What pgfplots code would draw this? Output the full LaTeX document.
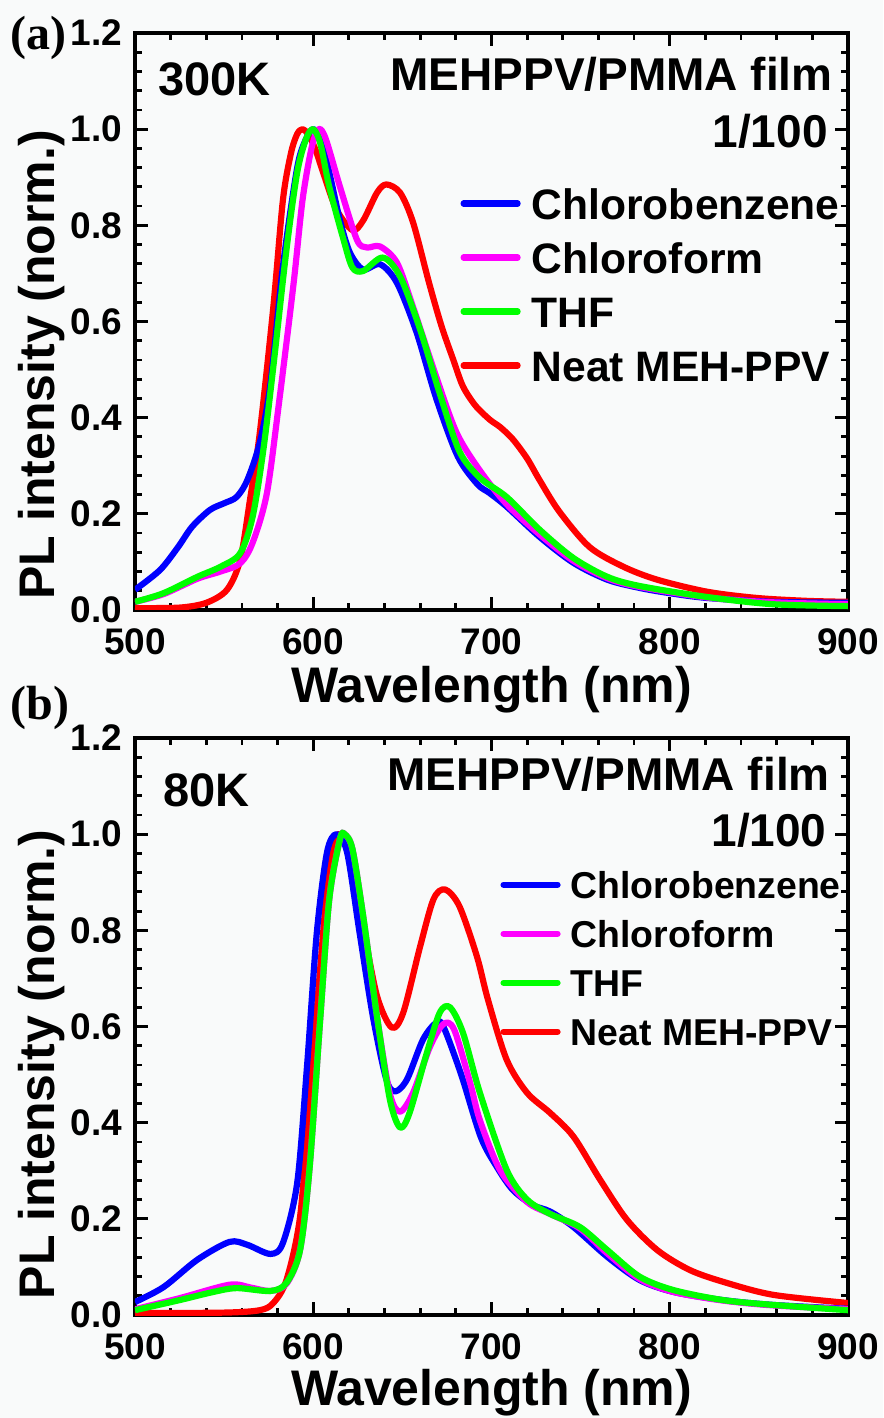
\documentclass[border=0pt]{standalone}
\usepackage{fontspec}
\setmainfont{Liberation Sans}
\newfontfamily\serifb{Liberation Serif}
\usepackage{pgfplots}
\pgfplotsset{compat=1.18}

\definecolor{bg}{RGB}{249,250,250}
\definecolor{cb}{RGB}{0,0,255}
\definecolor{cf}{RGB}{255,0,255}
\definecolor{thf}{RGB}{0,255,0}
\definecolor{neat}{RGB}{255,0,0}

\pgfplotsset{
  plpanel/.style={
    scale only axis, width=356.5pt, height=288.5pt,
    xmin=500, xmax=900, ymin=0, ymax=1.2,
    xtick={500,600,...,900}, ytick={0,0.2,...,1.2},
    minor x tick num=4, minor y tick num=4,
    tick align=inside,
    major tick length=6.5pt, minor tick length=3.5pt,
    every tick/.style={black, line width=1.4pt},
    axis line style={line width=1.8pt},
    /pgf/number format/assume math mode=true,
    ticklabel style={font=\fontsize{18.5}{18.5}\selectfont\bfseries, inner sep=1pt},
    yticklabel style={xshift=-5.2pt, /pgf/number format/.cd, fixed, fixed zerofill, precision=1},
    xticklabel style={yshift=-8pt, /pgf/number format/.cd, fixed, precision=0, 1000 sep={}},
    label style={font=\fontsize{25}{25}\selectfont\bfseries},
    xlabel={Wavelength (nm)},
    ylabel={PL intensity (norm.)},
    legend cell align=left,
    legend image code/.code={\draw[#1, line cap=round] (0pt,0pt) -- (27pt,0pt);},
    every axis plot/.append style={line width=3.1pt, smooth, line join=round},
  },
}

\begin{document}
\begin{tikzpicture}
\useasboundingbox (-67.5pt,-404pt) rectangle (374pt,305pt);
\fill[bg] (-67.5pt,-404pt) rectangle (374pt,305pt);

% (a) 300 K
\begin{axis}[plpanel, name=top, at={(0,0)}, anchor=south west,
  xlabel style={at={(axis description cs:0.5,0)}, anchor=base, yshift=-46pt},
  ylabel style={at={(axis description cs:0,0.425)}, anchor=base, yshift=40pt},
  legend style={draw=none, fill=none, inner sep=0pt, row sep=11.5pt, column sep=5.5pt,
    font=\fontsize{21.3}{21.3}\selectfont\bfseries,
    nodes={inner sep=0pt, text height=15.5pt, text depth=0pt},
    at={(rel axis cs:0.456,0.732)}, anchor=north west},
]
\addplot[neat, forget plot] coordinates {
(500,0.004)(525,0.005)(540,0.015)(551.6,0.042)(559,0.104)(564.5,0.229)(570,0.368)
(577.6,0.63)(583,0.853)(587.5,0.95)(591,0.99)(594,1.0)(597,0.99)(601,0.96)(606,0.905)
(613,0.833)(622,0.79)(628,0.81)(635.8,0.868)(641,0.885)(648.7,0.868)(656,0.806)
(665,0.68)(672,0.59)(678.6,0.52)(684,0.465)(691,0.425)(699,0.396)(705,0.38)
(712,0.355)(720,0.315)(727,0.27)(738,0.205)(755,0.131)(774,0.09)(793,0.063)
(821,0.038)(849,0.025)(877,0.019)(900,0.017)};
\addplot[cb] coordinates {
(500,0.042)(514,0.083)(524,0.13)(532,0.173)(542,0.208)(550,0.222)(557,0.235)
(563,0.27)(570,0.348)(576,0.47)(583,0.715)(591,0.92)(596,0.98)(600,1.0)(604,0.98)
(609,0.91)(615,0.81)(620.6,0.743)(628,0.708)(637.5,0.719)(647,0.68)(658,0.577)
(669,0.44)(681,0.32)(692,0.262)(699,0.243)(708.5,0.215)(727,0.152)(746,0.098)
(765,0.063)(783,0.046)(800,0.035)(821,0.025)(858,0.017)(900,0.015)};
\addplot[cf] coordinates {
(500,0.017)(516,0.033)(535,0.065)(548,0.08)(559,0.097)(566,0.14)(574,0.243)
(581,0.437)(589,0.68)(594,0.853)(599,0.96)(603,1.0)(607,0.98)(615,0.88)
(624.5,0.77)(630,0.754)(637.5,0.756)(647,0.722)(656,0.63)(669,0.485)(680.5,0.368)
(693.5,0.29)(708.5,0.22)(727,0.157)(746,0.102)(765,0.066)(783,0.048)(821,0.026)
(858,0.016)(900,0.012)};
\addplot[thf] coordinates {
(500,0.017)(516,0.035)(535,0.069)(548,0.09)(559,0.118)(566,0.194)(572,0.333)
(577.6,0.506)(585,0.75)(591,0.91)(596,0.98)(600,1.0)(604,0.97)(609,0.88)(617,0.77)
(622,0.712)(628,0.705)(639,0.733)(648.7,0.694)(660,0.583)(671,0.45)(682,0.33)
(693.5,0.275)(708.5,0.235)(727,0.167)(746,0.108)(765,0.069)(783,0.05)(821,0.027)
(858,0.012)(900,0.008)};
\addlegendimage{neat, line width=3.1pt}
\legend{Chlorobenzene, Chloroform, THF, Neat MEH-PPV}
\node[anchor=base west, inner sep=0pt, font=\fontsize{23.5}{23.5}\selectfont\bfseries]
  at (rel axis cs:0.032,0.8925) {300K};
\node[anchor=base east, inner sep=0pt, font=\fontsize{23}{23}\selectfont\bfseries]
  at (rel axis cs:0.979,0.901) {MEHPPV/PMMA film};
\node[anchor=base east, inner sep=0pt, font=\fontsize{23}{23}\selectfont\bfseries]
  at (rel axis cs:0.972,0.8007) {1/100};
\end{axis}

% (b) 80 K
\begin{axis}[plpanel, name=bot, at={(0,-352.5pt)}, anchor=south west,
  xlabel style={at={(axis description cs:0.5,0)}, anchor=base, yshift=-45pt},
  ylabel style={at={(axis description cs:0,0.434)}, anchor=base, yshift=40pt},
  legend style={draw=none, fill=none, inner sep=0pt, row sep=10.9pt, column sep=5pt,
    font=\fontsize{18.7}{18.7}\selectfont\bfseries,
    nodes={inner sep=0pt, text height=13.6pt, text depth=0pt},
    at={(rel axis cs:0.512,0.770)}, anchor=north west},
]
\addplot[neat, forget plot] coordinates {
(500,0.004)(550,0.005)(570,0.01)(577.6,0.025)(585,0.073)(592.6,0.204)(598,0.448)
(604,0.725)(609,0.933)(614,1.0)(620.6,0.954)(628,0.808)(635.8,0.663)(644,0.598)
(650.5,0.629)(660,0.767)(667.5,0.865)(674,0.885)(682,0.85)(691.8,0.746)(698,0.656)
(708.5,0.531)(720,0.462)(733,0.42)(746,0.371)(761,0.281)(776,0.198)(793,0.135)
(811,0.094)(830,0.069)(858,0.042)(900,0.025)};
\addplot[cb] coordinates {
(500,0.027)(516,0.058)(535,0.115)(553,0.152)(563,0.146)(576,0.127)(583,0.15)
(591,0.275)(596.5,0.517)(602,0.795)(607.7,0.962)(613,1.0)(619,0.962)(626,0.795)
(633.5,0.62)(641,0.49)(646,0.465)(652.6,0.49)(661.6,0.573)(669,0.608)(673,0.6)
(683,0.5)(694,0.37)(703,0.308)(712,0.26)(723,0.229)(733,0.215)(746,0.183)
(765,0.121)(783,0.073)(802,0.048)(830,0.031)(858,0.021)(900,0.013)};
\addplot[cf] coordinates {
(500,0.012)(525,0.035)(553,0.063)(565,0.057)(576,0.05)(585,0.065)(592.6,0.135)
(598,0.308)(604,0.62)(609,0.865)(615,0.99)(617.6,1.0)(622,0.969)(628,0.83)
(635.8,0.62)(643,0.46)(648.7,0.423)(656,0.462)(665.5,0.558)(673,0.605)(679,0.594)
(688,0.483)(693.5,0.405)(705,0.3)(720,0.235)(733,0.21)(749.6,0.18)(765,0.128)
(783,0.075)(802,0.048)(830,0.03)(858,0.02)(900,0.012)};
\addplot[thf] coordinates {
(500,0.01)(525,0.031)(544,0.048)(557,0.056)(576,0.05)(585,0.067)(592.6,0.135)
(598,0.308)(604,0.62)(609,0.865)(615,0.99)(617.6,1.0)(622,0.969)(628,0.83)
(635.8,0.62)(643,0.448)(648.7,0.39)(654,0.42)(663.8,0.546)(671,0.629)(676.7,0.64)
(684,0.587)(693.5,0.462)(708.5,0.302)(720,0.24)(733,0.21)(749.6,0.183)(765,0.135)
(783,0.08)(802,0.052)(830,0.031)(858,0.021)(900,0.01)};
\addlegendimage{neat, line width=3.1pt}
\legend{Chlorobenzene, Chloroform, THF, Neat MEH-PPV}
\node[anchor=base west, inner sep=0pt, font=\fontsize{23.5}{23.5}\selectfont\bfseries]
  at (rel axis cs:0.039,0.882) {80K};
\node[anchor=base east, inner sep=0pt, font=\fontsize{23}{23}\selectfont\bfseries]
  at (rel axis cs:0.975,0.9097) {MEHPPV/PMMA film};
\node[anchor=base east, inner sep=0pt, font=\fontsize{23}{23}\selectfont\bfseries]
  at (rel axis cs:0.9705,0.8128) {1/100};
\end{axis}

\node[anchor=west, inner sep=0pt, font=\fontsize{24}{24}\selectfont\serifb\bfseries]
  at (-62.5pt,286pt) {(a)};
\node[anchor=west, inner sep=0pt, font=\fontsize{24}{24}\selectfont\serifb\bfseries]
  at (-62.5pt,-49pt) {(b)};
\end{tikzpicture}
\end{document}
